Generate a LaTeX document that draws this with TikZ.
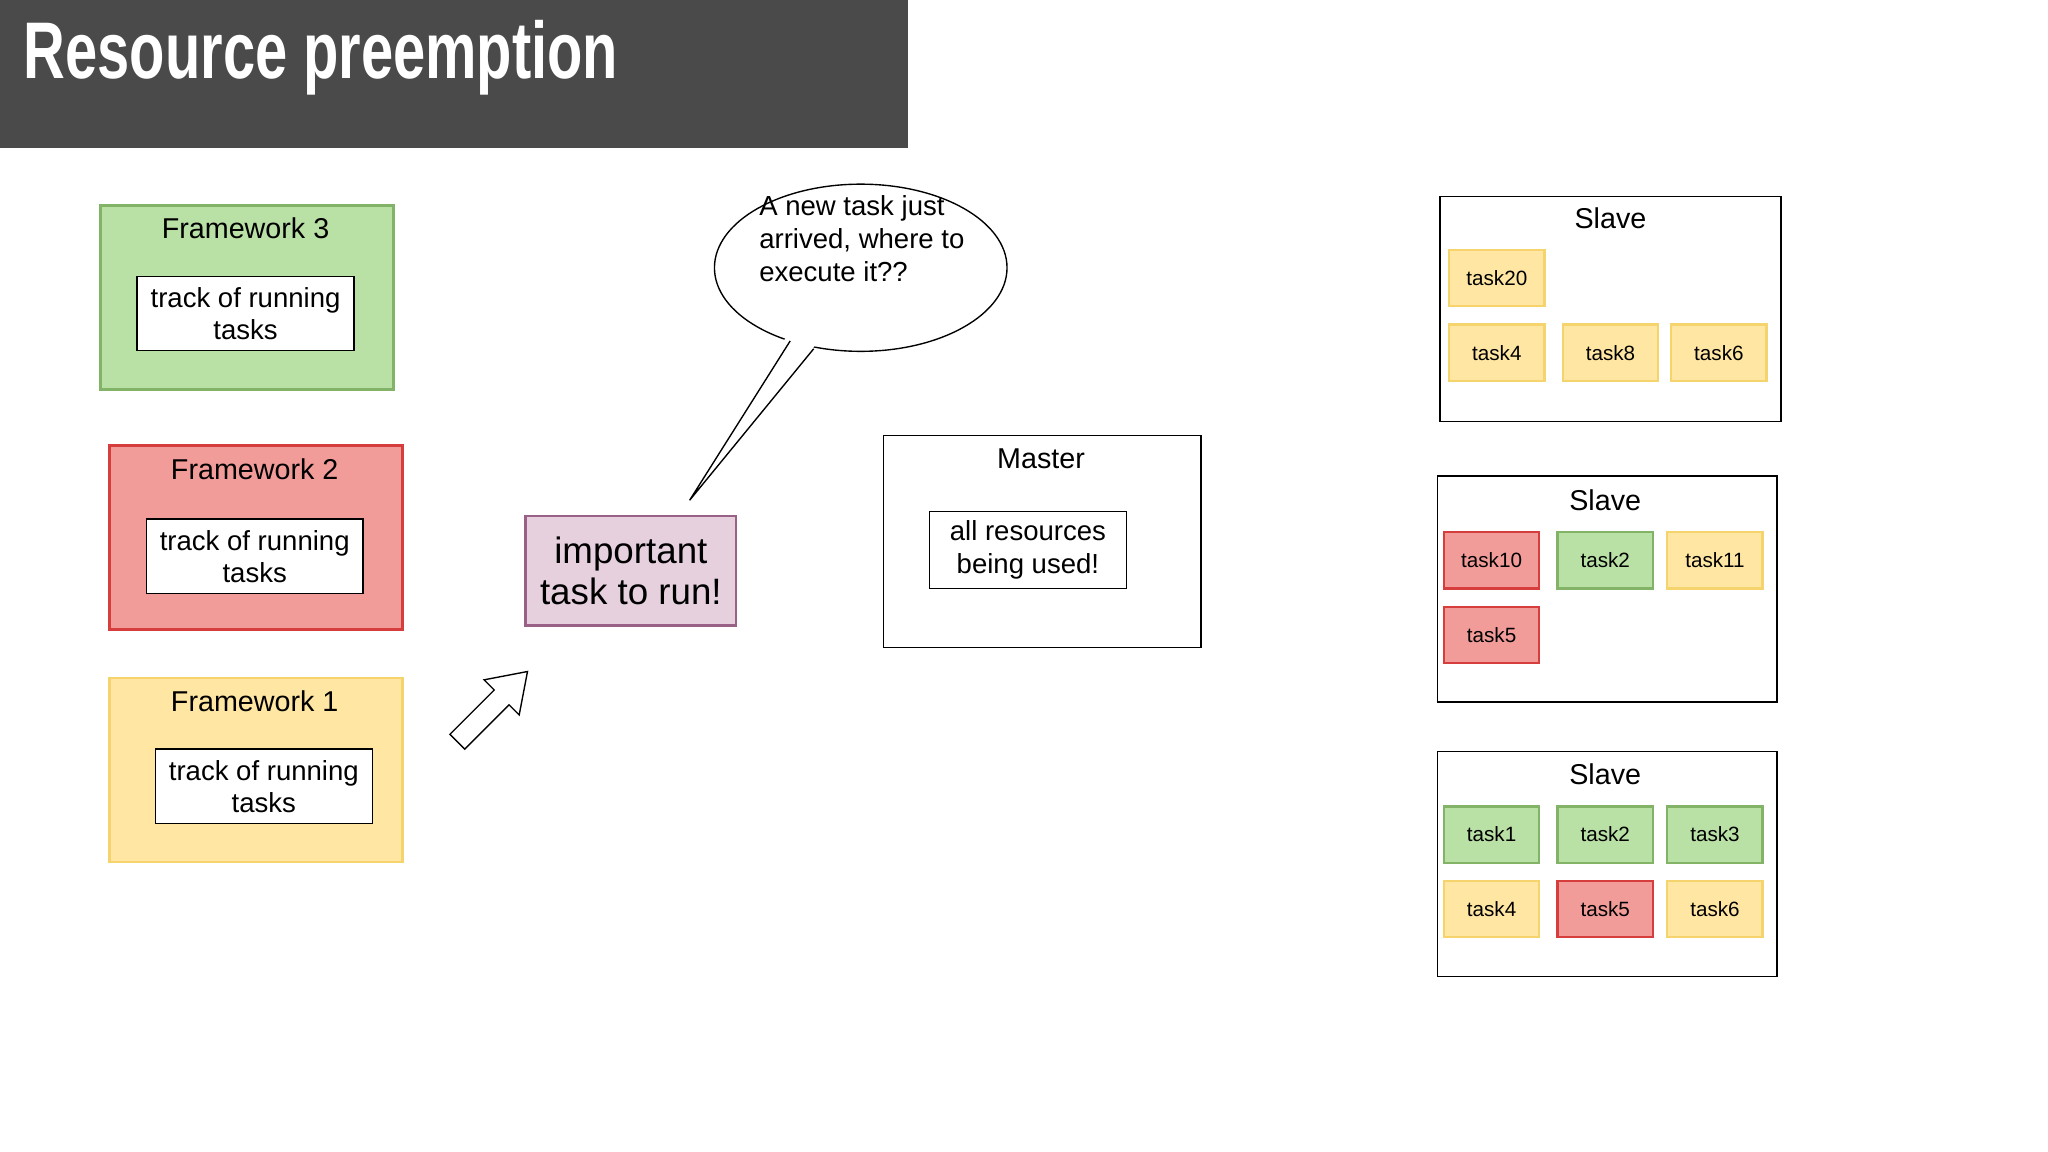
\documentclass[tikz,border=0pt]{standalone}
\usepackage{fontspec}
\setmainfont{Liberation Sans}
\newfontfamily\titlefont[FakeStretch=0.72]{Liberation Sans Bold}
\usetikzlibrary{positioning}
\definecolor{bargray}{HTML}{4A4A4A}
\definecolor{grnfill}{HTML}{B9E0A5}\definecolor{grnline}{HTML}{82B366}
\definecolor{redfill}{HTML}{F19C99}\definecolor{redline}{HTML}{D63E3E}
\definecolor{yelfill}{HTML}{FFE6A3}\definecolor{yelline}{HTML}{F5D46E}
\definecolor{pinkfill}{HTML}{E6D0DE}\definecolor{pinkline}{HTML}{996185}
\tikzset{
  frame/.style={draw, line width=1.2pt, minimum width=224*0.2mm, minimum height=141*0.2mm, anchor=north west, inner sep=0pt},
  inbox/.style={draw, fill=white, line width=0.6pt, align=center, minimum width=166*0.2mm, minimum height=57*0.2mm, inner sep=0pt, font=\fontsize{12}{14}\selectfont},
  slavebox/.style={draw, line width=0.6pt, anchor=north west, minimum width=260*0.2mm, minimum height=172*0.2mm, inner sep=0pt},
  tsk/.style={draw, line width=1pt, minimum width=73*0.2mm, minimum height=43*0.2mm, inner sep=0pt, font=\fontsize{9}{10}\selectfont},
  grn/.style={fill=grnfill, draw=grnline},
  red/.style={fill=redfill, draw=redline},
  yel/.style={fill=yelfill, draw=yelline},
  ttl/.style={font=\fontsize{12.5}{14}\selectfont}
}
\begin{document}
\begin{tikzpicture}[x=0.2mm, y=-0.2mm]
	\useasboundingbox (0,0) rectangle (1568,882);
	\fill[white] (0,0) rectangle (1568,882);
	% title bar
	\fill[bargray] (0,0) rectangle (695,113);
	\node[anchor=west, text=white, font=\titlefont\fontsize{35}{40}\selectfont] (title) at (12,44) {Resource preemption};

	% frameworks
	\node[frame, grn] (fw3) at (76,156) {};
	\node[ttl] (fw3t) at (188,175) {Framework 3};
	\node[inbox] (fw3b) at (188,240) {track of running\\tasks};
	\node[frame, red] (fw2) at (83,340) {};
	\node[ttl] (fw2t) at (195,359) {Framework 2};
	\node[inbox] (fw2b) at (195,426) {track of running\\tasks};
	\node[frame, yel] (fw1) at (83,518) {};
	\node[ttl] (fw1t) at (195,537) {Framework 1};
	\node[inbox] (fw1b) at (202,602) {track of running\\tasks};

	% hollow arrow
	\draw[line width=0.6pt, shift={(377,541)}, rotate=45] (-38,-8) -- (10,-8) -- (10,-19) -- (38,0) -- (10,19) -- (10,8) -- (-38,8) -- cycle;

	% important task
	\node[draw=pinkline, fill=pinkfill, line width=1.2pt, minimum width=161*0.2mm, minimum height=84*0.2mm, align=center, inner sep=0pt, font=\fontsize{16}{18}\selectfont] (imp) at (483,437) {important\\task to run!};

	% speech bubble
	\draw[line width=0.6pt] (659,205) ellipse [x radius=112, y radius=64];
	\fill[white] (603,256) -- (528,383) -- (626,262) -- cycle;
	\coordinate (tip) at (528,383);
	\draw[line width=0.6pt] (605,261) -- (tip) -- (623,267);
	\node[anchor=west, align=left, font=\fontsize{12}{14.4}\selectfont, inner sep=0pt] (bub) at (581,183) {A new task just\\arrived, where to\\execute it??};

	% master
	\node[draw, line width=0.6pt, anchor=north west, minimum width=243*0.2mm, minimum height=162*0.2mm, inner sep=0pt] (master) at (676,333) {};
	\node[ttl] (mastert) at (797,351) {Master};
	\node[inbox, minimum width=151*0.2mm, minimum height=59*0.2mm] (masterb) at (787,421) {all resources\\being used!};

	% slaves
	\node[slavebox, minimum width=261*0.2mm] (s1) at (1102,150) {};
	\node[ttl] (s1t) at (1233,167) {Slave};
	\node[tsk, yel] (s1a) at (1146,213) {task20};
	\node[tsk, yel] (s1b) at (1146,270) {task4};
	\node[tsk, yel] (s1c) at (1233,270) {task8};
	\node[tsk, yel] (s1d) at (1316,270) {task6};

	\node[slavebox, minimum height=173*0.2mm] (s2) at (1100,364) {};
	\node[ttl] (s2t) at (1229,383) {Slave};
	\node[tsk, red] (s2a) at (1142,429) {task10};
	\node[tsk, grn] (s2b) at (1229,429) {task2};
	\node[tsk, yel] (s2c) at (1313,429) {task11};
	\node[tsk, red] (s2d) at (1142,486) {task5};

	\node[slavebox] (s3) at (1100,575) {};
	\node[ttl] (s3t) at (1229,593) {Slave};
	\node[tsk, grn] (s3a) at (1142,639) {task1};
	\node[tsk, grn] (s3b) at (1229,639) {task2};
	\node[tsk, grn] (s3c) at (1313,639) {task3};
	\node[tsk, yel] (s3d) at (1142,696) {task4};
	\node[tsk, red] (s3e) at (1229,696) {task5};
	\node[tsk, yel] (s3f) at (1313,696) {task6};
\end{tikzpicture}
\end{document}
